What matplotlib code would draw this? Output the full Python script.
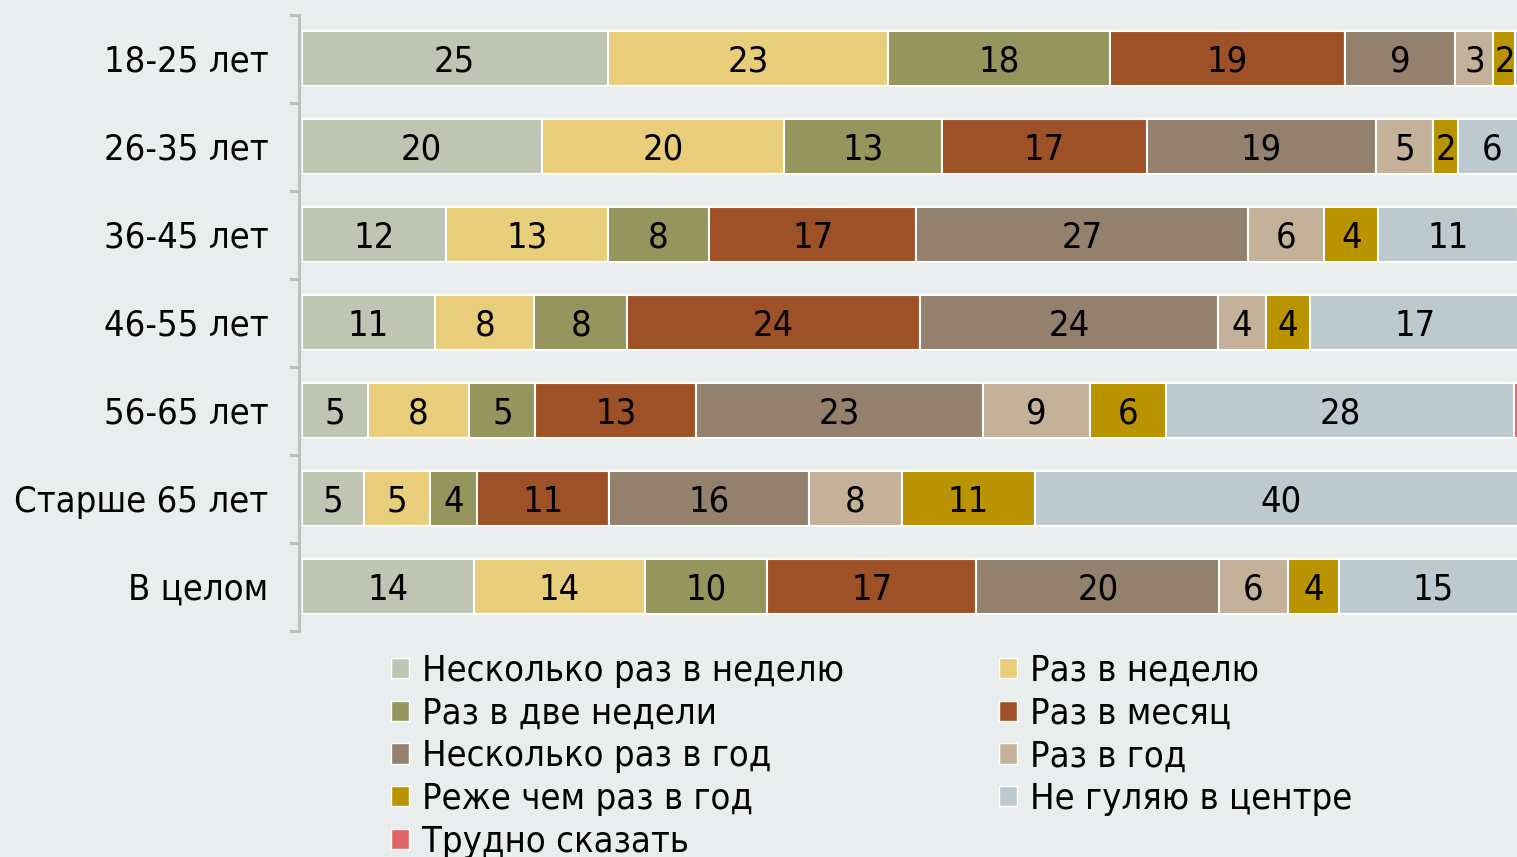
import matplotlib.pyplot as plt
from matplotlib.patches import Patch
from matplotlib.ticker import FixedLocator

plt.rcParams["font.family"] = ["DejaVu Sans"]
plt.rcParams["font.stretch"] = "condensed"

BG = "#E9EDEE"

GROUPS = ["18-25 лет", "26-35 лет", "36-45 лет", "46-55 лет",
          "56-65 лет", "Старше 65 лет", "В целом"]

SERIES = ["Несколько раз в неделю", "Раз в неделю", "Раз в две недели",
          "Раз в месяц", "Несколько раз в год", "Раз в год",
          "Реже чем раз в год", "Не гуляю в центре", "Трудно сказать"]

COLORS = ["#BFC5B2", "#E8CD7A", "#96955D", "#9E5026", "#93806D",
          "#C4B19A", "#B99300", "#BCC9CE", "#E06464"]

# shares per group, % (widths, labels are rounded)
several_week = [25.0, 19.6, 11.8, 10.9, 5.4, 5.1, 14.1]
once_week = [22.9, 19.8, 13.2, 8.1, 8.3, 5.4, 13.9]
two_weeks = [18.1, 12.9, 8.3, 7.6, 5.4, 3.8, 10.0]
once_month = [19.2, 16.7, 16.9, 23.9, 13.1, 10.8, 17.1]
several_year = [9.0, 18.7, 27.1, 24.3, 23.4, 16.3, 19.8]
once_year = [3.1, 4.7, 6.2, 3.9, 8.8, 7.6, 5.6]
rarer = [1.8, 2.0, 4.4, 3.6, 6.2, 10.9, 4.2]
not_walk = [0.9, 5.6, 11.4, 17.2, 28.4, 40.1, 15.3]
hard_to_say = [0.0, 0.0, 0.7, 0.5, 1.0, 0.0, 0.0]

values = [several_week, once_week, two_weeks, once_month, several_year,
          once_year, rarer, not_walk, hard_to_say]

FS = 26


def main():
    W, H = 1517, 857
    fig = plt.figure(figsize=(W / 100, H / 100), dpi=100, facecolor=BG)
    ax = fig.add_axes([301.5 / W, 226.5 / H, 1225 / W, 616 / H])
    ax.set_facecolor(BG)

    y = list(range(len(GROUPS)))
    left = [0.0] * len(GROUPS)
    for name, vals, color in zip(SERIES, values, COLORS):
        bars = ax.barh(y, vals, left=left, height=0.625, color=color,
                       edgecolor="white", linewidth=1.5, label=name)
        for rect, v in zip(bars, vals):
            if v < 1.5:
                continue
            cx = rect.get_x() + rect.get_width() / 2
            cy = rect.get_y() + rect.get_height() / 2
            ax.annotate(f"{v:.0f}", (cx, cy), xytext=(0, -2.5),
                        textcoords="offset points", ha="center", va="center",
                        fontsize=FS, color="black", annotation_clip=False)
        left = [a + b for a, b in zip(left, vals)]

    ax.set_xlim(0, 100)
    ax.set_ylim(len(GROUPS) - 0.5, -0.5)

    for side in ["top", "right", "bottom"]:
        ax.spines[side].set_visible(False)
    ax.spines["left"].set_color("#BFBFBF")
    ax.spines["left"].set_linewidth(2.2)
    ax.spines["left"].set_position(("outward", 2))

    ax.set_xticks([])
    ax.set_yticks(y)
    ax.set_yticklabels(GROUPS, fontsize=FS)
    ax.tick_params(axis="y", which="major", length=0, pad=22)
    ax.yaxis.set_minor_locator(FixedLocator([i - 0.5 for i in range(len(GROUPS) + 1)]))
    ax.tick_params(axis="y", which="minor", length=7.5, width=2.2,
                   color="#BFBFBF")

    handles = [Patch(facecolor=c, edgecolor="white", linewidth=1.0) for c in COLORS]
    order = [0, 2, 4, 6, 8, 1, 3, 5, 7]
    fig.legend([handles[i] for i in order], [SERIES[i] for i in order],
               ncol=2, loc="upper left",
               bbox_to_anchor=(391 / W, 1 - 654 / H),
               frameon=False, fontsize=FS, borderpad=0, borderaxespad=0,
               handlelength=0.5, handleheight=0.5, handletextpad=0.35,
               columnspacing=4.3, labelspacing=0.24)

    fig.savefig("out.png", dpi=100, facecolor=BG)
    plt.close(fig)


if __name__ == "__main__":
    main()
